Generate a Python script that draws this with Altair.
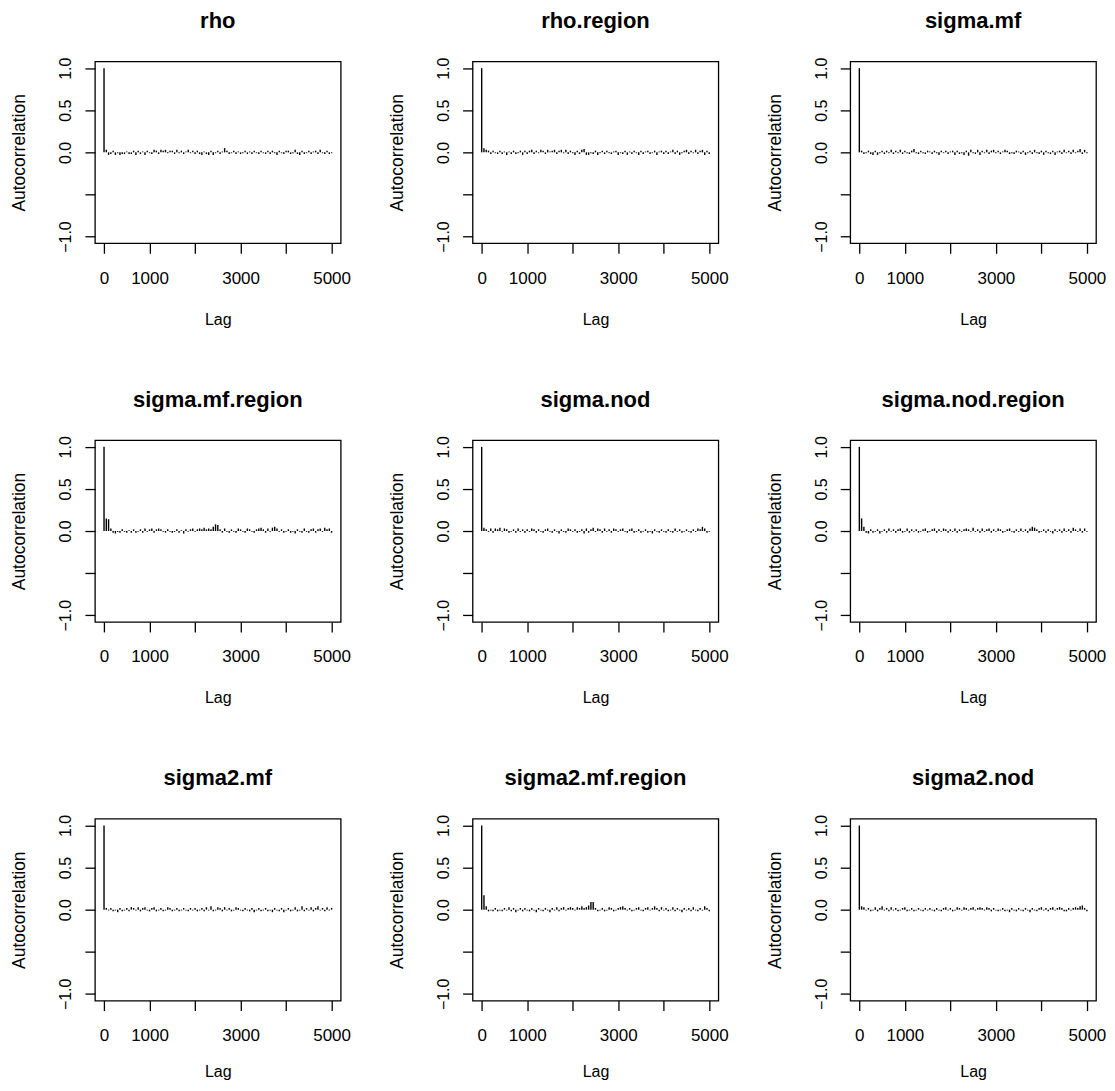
import altair as alt
import pandas as pd

NAMES = ["rho", "rho.region", "sigma.mf",
         "sigma.mf.region", "sigma.nod", "sigma.nod.region",
         "sigma2.mf", "sigma2.mf.region", "sigma2.nod"]

LAGS = list(range(0, 5001, 50))

RHO = [1.00,
       0.03, -0.03, -0.02, 0.02, -0.03, -0.01, -0.03, -0.02, -0.02, 0.01,
       -0.02, -0.02, 0.02, -0.03, 0.02, -0.02, 0.01, -0.03, 0.02, -0.01,
       -0.02, 0.03, 0.02, -0.02, 0.03, 0.02, 0.03, -0.01, 0.02, 0.02,
       -0.02, 0.03, -0.01, 0.02, -0.02, 0.01, 0.03, -0.01, 0.02, -0.02,
       0.02, -0.02, -0.03, 0.01, -0.02, -0.03, 0.02, -0.03, -0.01, 0.02,
       -0.02, 0.01, 0.05, 0.02, -0.02, -0.01, 0.02, -0.02, 0.01, -0.02,
       -0.01, 0.02, -0.02, 0.01, -0.02, 0.02, -0.01, -0.02, 0.02, -0.01,
       -0.02, 0.02, -0.02, 0.02, -0.01, -0.03, 0.02, -0.01, -0.02, 0.02,
       0.02, -0.02, -0.01, 0.03, -0.02, -0.03, 0.02, -0.02, -0.01, 0.02,
       -0.02, 0.01, 0.02, -0.02, 0.03, -0.01, -0.02, 0.02, -0.02, -0.01]

RHO_REGION = [1.00,
              0.05, 0.03, 0.02, -0.02, 0.02, -0.01, -0.02, 0.02, -0.02, 0.01,
              -0.03, 0.01, -0.02, 0.02, -0.02, -0.01, 0.02, -0.03, 0.02, -0.02,
              0.02, 0.03, -0.02, 0.02, -0.01, 0.03, 0.02, -0.02, 0.03, 0.01,
              0.02, 0.03, -0.02, 0.02, 0.03, -0.01, 0.03, -0.02, 0.02, -0.01,
              -0.03, 0.02, -0.02, 0.03, 0.04, -0.03, -0.03, -0.01, -0.02, 0.02,
              -0.03, -0.01, 0.02, -0.02, 0.02, -0.01, -0.02, 0.01, 0.02, -0.03,
              -0.01, -0.02, 0.02, -0.03, 0.01, -0.02, 0.02, -0.01, -0.03, 0.02,
              -0.02, 0.01, 0.02, -0.02, -0.01, 0.02, -0.03, 0.01, 0.02, -0.02,
              0.02, -0.02, 0.01, 0.03, -0.02, 0.02, -0.03, -0.01, 0.02, 0.03,
              -0.02, 0.02, -0.01, 0.03, -0.02, 0.02, 0.03, -0.03, 0.02, -0.02]

SIGMA_MF = [1.00,
            0.02, -0.02, -0.01, 0.02, -0.02, -0.03, 0.02, -0.03, -0.01, 0.02,
            -0.02, 0.02, -0.01, 0.03, -0.02, 0.02, -0.01, 0.03, -0.02, 0.02,
            -0.01, -0.02, 0.02, 0.04, -0.01, -0.02, 0.02, -0.01, -0.02, 0.02,
            0.01, -0.02, 0.02, -0.01, -0.03, 0.02, -0.01, 0.02, -0.02, 0.01,
            0.02, -0.03, 0.02, -0.02, -0.01, -0.03, 0.02, -0.04, 0.03, -0.01,
            -0.02, 0.03, -0.03, 0.02, -0.01, 0.03, -0.02, 0.02, 0.03, -0.01,
            0.02, -0.02, 0.01, 0.03, 0.02, -0.02, -0.01, -0.02, 0.02, 0.01,
            -0.02, 0.02, -0.03, -0.01, 0.02, -0.02, 0.03, -0.01, -0.02, 0.02,
            -0.03, 0.02, -0.01, -0.02, 0.02, -0.03, 0.01, 0.02, -0.02, 0.03,
            -0.01, 0.02, -0.02, 0.03, -0.01, 0.02, 0.04, -0.02, 0.03, -0.01]

SIGMA_MF_REGION = [1.00,
                   0.15, 0.14, 0.03, -0.02, -0.03, -0.01, -0.02, 0.02, -0.01, -0.02,
                   0.01, -0.02, 0.02, -0.02, -0.01, 0.02, -0.02, 0.03, -0.01, 0.02,
                   0.03, -0.02, 0.02, 0.03, 0.02, -0.01, -0.02, 0.02, -0.01, -0.02,
                   -0.01, 0.02, -0.02, 0.01, -0.03, 0.02, -0.01, 0.02, 0.03, -0.01,
                   0.02, 0.03, 0.02, 0.04, 0.02, 0.03, 0.02, 0.05, 0.08, 0.07,
                   0.02, -0.02, 0.03, -0.01, -0.02, 0.02, -0.01, -0.02, 0.03, 0.02,
                   -0.01, -0.02, 0.03, 0.02, -0.01, -0.02, 0.02, 0.03, 0.04, 0.02,
                   -0.02, 0.03, -0.01, 0.04, 0.05, 0.03, -0.01, 0.02, -0.02, -0.01,
                   0.02, -0.02, -0.01, -0.03, 0.02, -0.01, -0.02, 0.03, -0.01, -0.02,
                   0.02, 0.03, -0.02, 0.02, 0.03, -0.01, 0.04, 0.02, 0.03, -0.02]

SIGMA_NOD = [1.00,
             0.04, 0.02, -0.01, 0.03, -0.02, 0.03, 0.02, 0.04, -0.01, 0.03,
             0.02, -0.02, -0.01, 0.02, -0.02, 0.03, -0.01, 0.02, -0.02, 0.02,
             -0.01, 0.03, 0.02, -0.02, 0.02, -0.01, -0.02, 0.02, 0.03, -0.01,
             -0.02, 0.02, -0.01, -0.03, 0.02, -0.01, -0.02, 0.03, 0.02, -0.01,
             0.02, -0.02, -0.01, 0.02, -0.03, 0.03, -0.02, 0.02, 0.04, -0.01,
             0.03, 0.02, -0.02, 0.03, -0.01, 0.02, -0.02, 0.03, 0.02, -0.01,
             0.02, 0.03, -0.01, -0.02, 0.02, 0.03, -0.02, -0.01, 0.02, -0.02,
             -0.01, 0.02, -0.02, -0.01, -0.03, 0.02, -0.01, -0.02, 0.02, -0.01,
             -0.02, 0.02, -0.01, -0.02, 0.03, -0.01, 0.02, -0.02, -0.01, 0.02,
             -0.01, -0.02, 0.02, -0.01, 0.03, 0.02, 0.05, 0.03, -0.02, -0.01]

SIGMA_NOD_REGION = [1.00,
                    0.15, 0.05, -0.02, -0.03, 0.02, -0.02, -0.01, 0.02, -0.03, -0.01,
                    0.02, -0.02, 0.03, -0.01, 0.02, -0.02, 0.02, 0.03, -0.02, -0.01,
                    0.03, -0.02, 0.02, -0.01, 0.02, -0.02, -0.01, 0.02, 0.03, -0.02,
                    -0.01, 0.02, 0.03, -0.02, 0.02, -0.01, 0.03, 0.02, -0.02, 0.02,
                    -0.01, 0.03, -0.02, 0.02, -0.01, 0.02, 0.03, 0.02, -0.01, 0.04,
                    -0.01, 0.02, -0.02, 0.03, -0.01, 0.02, 0.03, -0.02, 0.02, -0.01,
                    0.03, 0.02, -0.02, -0.01, 0.02, 0.03, -0.01, -0.02, 0.02, -0.01,
                    0.03, -0.01, 0.02, -0.02, 0.03, 0.05, 0.04, 0.02, -0.02, -0.01,
                    0.02, -0.02, 0.02, -0.01, -0.03, 0.02, -0.01, 0.02, -0.02, 0.03,
                    -0.01, 0.02, -0.02, 0.04, 0.02, -0.01, 0.03, -0.02, 0.03, -0.01]

SIGMA2_MF = [1.00,
             0.02, -0.01, 0.02, -0.02, -0.01, -0.03, 0.02, -0.02, -0.01, 0.02,
             -0.02, 0.03, 0.02, -0.01, 0.03, -0.02, 0.02, 0.03, -0.01, -0.02,
             0.02, 0.03, -0.02, -0.01, 0.02, -0.02, -0.01, 0.03, 0.02, -0.02,
             -0.01, 0.02, -0.02, -0.01, 0.02, -0.01, -0.02, 0.02, -0.01, 0.02,
             -0.02, -0.01, 0.02, -0.02, 0.03, -0.01, 0.04, -0.02, -0.01, 0.03,
             0.02, -0.02, 0.03, -0.01, 0.02, -0.02, -0.01, 0.03, 0.02, -0.01,
             -0.02, 0.02, -0.01, -0.02, 0.02, -0.03, -0.01, 0.02, -0.02, -0.01,
             0.02, -0.02, -0.01, -0.03, 0.02, -0.01, -0.02, 0.02, -0.03, -0.01,
             0.02, -0.02, -0.01, 0.03, -0.02, -0.01, 0.04, -0.02, 0.02, -0.01,
             0.03, -0.02, 0.02, 0.04, -0.01, 0.02, -0.02, 0.03, -0.01, 0.02]

SIGMA2_MF_REGION = [1.00,
                    0.17, 0.04, -0.02, -0.01, -0.02, 0.02, -0.02, -0.01, -0.02, 0.02,
                    -0.01, 0.03, -0.02, 0.02, -0.03, -0.01, 0.02, -0.02, 0.02, -0.01,
                    -0.02, 0.02, -0.01, -0.03, 0.02, -0.01, -0.02, 0.02, -0.01, -0.03,
                    0.02, -0.01, 0.03, -0.02, 0.02, 0.03, -0.01, 0.02, 0.03, 0.02,
                    -0.01, 0.03, 0.02, 0.04, 0.02, 0.03, 0.05, 0.09, 0.09, 0.02,
                    -0.02, -0.01, 0.02, -0.02, -0.01, 0.03, 0.02, -0.02, -0.01, 0.02,
                    0.03, 0.04, 0.02, -0.01, 0.02, -0.02, -0.01, 0.02, 0.03, -0.01,
                    -0.02, 0.02, 0.03, -0.01, 0.02, 0.04, 0.02, -0.02, 0.03, -0.01,
                    0.02, -0.02, -0.01, 0.03, -0.02, 0.02, -0.01, -0.03, 0.02, -0.01,
                    0.02, -0.02, 0.03, -0.01, -0.02, 0.02, -0.01, 0.04, 0.02, -0.02]

SIGMA2_NOD = [1.00,
              0.04, 0.03, -0.01, 0.02, -0.02, -0.01, 0.03, -0.02, 0.02, 0.04,
              -0.01, 0.02, -0.02, 0.03, -0.01, 0.02, -0.02, -0.01, 0.02, 0.03,
              -0.02, -0.01, 0.02, -0.02, -0.01, 0.02, -0.01, -0.02, 0.02, -0.01,
              0.02, -0.01, -0.02, 0.02, -0.01, -0.02, 0.02, 0.03, -0.01, 0.02,
              -0.02, -0.01, 0.03, 0.02, -0.01, 0.03, 0.02, -0.01, 0.02, 0.03,
              -0.01, 0.02, 0.03, 0.02, -0.01, 0.03, 0.02, -0.02, 0.02, -0.01,
              -0.02, -0.01, 0.02, -0.02, -0.01, -0.03, 0.02, -0.01, -0.02, 0.02,
              -0.01, -0.02, 0.02, -0.01, -0.03, 0.02, -0.01, -0.02, 0.02, 0.03,
              -0.01, 0.02, -0.02, 0.02, 0.03, -0.01, 0.02, 0.03, 0.02, -0.02,
              -0.02, 0.02, -0.01, 0.02, 0.03, 0.02, 0.04, 0.05, 0.02, -0.02]

SERIES = [RHO, RHO_REGION, SIGMA_MF,
          SIGMA_MF_REGION, SIGMA_NOD, SIGMA_NOD_REGION,
          SIGMA2_MF, SIGMA2_MF_REGION, SIGMA2_NOD]

X_TICKS = [0, 1000, 2000, 3000, 4000, 5000]
Y_TICKS = [-1.0, -0.5, 0.0, 0.5, 1.0]

FONT = "Liberation Sans"
W, H = 246, 182


def panel(name, vals, lag_title_y):
    assert len(vals) == len(LAGS), name
    df = pd.DataFrame({"lag": LAGS, "acf": vals})
    return alt.Chart(
        df,
        title=alt.TitleParams(name, font=FONT, fontSize=22, fontWeight="bold",
                              color="black", anchor="middle", frame="group",
                              baseline="alphabetic", offset=7),
    ).mark_rule(color="black", strokeWidth=1.4).encode(
        x=alt.X("lag:Q",
                scale=alt.Scale(domain=[-200, 5200], nice=False, zero=False),
                axis=alt.Axis(values=X_TICKS,
                              labelExpr="(datum.value == 2000 || datum.value == 4000) ? '' : datum.label",
                              format="d", labelOverlap=False, labelFlush=False,
                              labelFontSize=17, labelPadding=17,
                              title="Lag", titleFontSize=16, titleY=lag_title_y,
                              titleBaseline="alphabetic")),
        y=alt.Y("acf:Q",
                scale=alt.Scale(domain=[-1.08, 1.08], nice=False, zero=False),
                axis=alt.Axis(values=Y_TICKS, format=".1f",
                              labelExpr="datum.value == -0.5 ? '' : datum.label",
                              labelAngle=270, labelAlign="center",
                              labelBaseline="alphabetic", labelOverlap=False,
                              labelFlush=False, labelFontSize=16, labelPadding=14,
                              title="Autocorrelation", titleFontSize=17.5,
                              titleAngle=270, titleX=-75, titleY=H / 2,
                              titleAlign="center", titleBaseline="middle")),
        y2=alt.datum(0),
    ).properties(width=W, height=H)


charts = [panel(n, v, 81 if i < 6 else 76)
          for i, (n, v) in enumerate(zip(NAMES, SERIES))]

chart = alt.concat(
    *charts, columns=3, spacing={"row": 197, "column": 132}, bounds="flush"
).properties(
    padding={"left": 2, "top": 0, "right": 0, "bottom": 0}
).configure_view(
    stroke="black", strokeWidth=1.3
).configure_axis(
    labelFont=FONT, titleFont=FONT,
    titleFontWeight="normal", labelColor="black", titleColor="black",
    tickColor="black", tickSize=10, tickWidth=1.3, domain=False, grid=False
)

chart.save("out.html", embed_options={"renderer": "svg", "actions": False})
